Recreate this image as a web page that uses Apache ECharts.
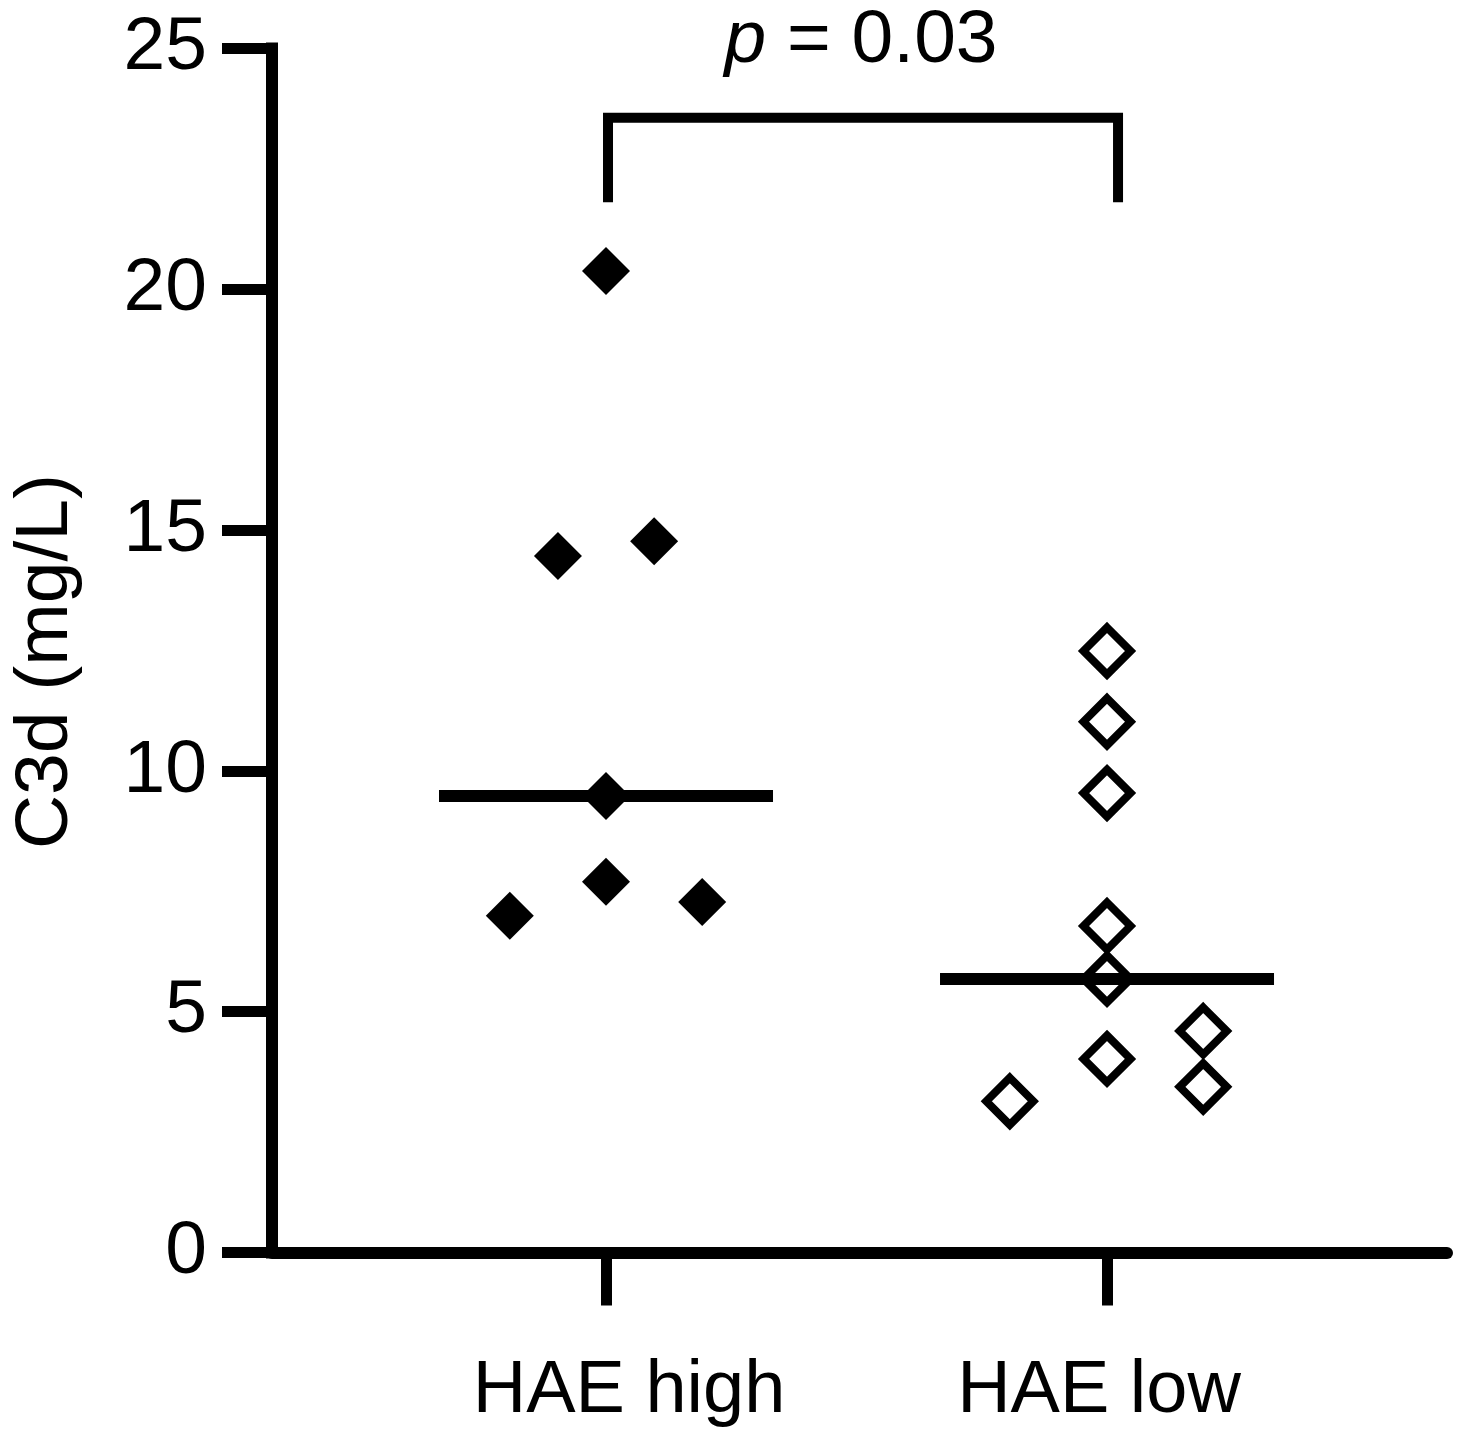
<!DOCTYPE html>
<html>
<head>
<meta charset="utf-8">
<script src="https://cdn.jsdelivr.net/npm/echarts@6/dist/echarts.min.js"></script>
<style>
  html, body { margin: 0; padding: 0; background: #ffffff; }
  #chart { width: 1459px; height: 1446px; }
</style>
</head>
<body>
<div id="chart"></div>
<script>
// ---- data ----
const categories = ['HAE high', 'HAE low'];
const groupPositions = [1, 2];
const highPositions = [1, 0.904, 1.096, 1, 1, 0.808, 1.192];
const highValues    = [20.38, 14.46, 14.77, 9.48, 7.70, 6.99, 7.28];
const lowPositions  = [2, 2, 2, 2, 2, 2, 1.806, 2.192, 2.192];
const lowValues     = [12.49, 11.02, 9.54, 6.78, 5.68, 4.02, 3.14, 4.60, 3.44];
const medians       = [9.48, 5.68];
const medianHalfWidth = 1 / 3;
const bracketX = [1.004, 2.022];
const bracketY = [21.81, 23.56];
const pLabel = 'p = 0.03';
const yTicks = [0, 5, 10, 15, 20, 25];
const yTitle = 'C3d (mg/L)';

const FONT = '"Liberation Sans", Arial, Helvetica, sans-serif';
const chart = echarts.init(document.getElementById('chart'), null, { renderer: 'canvas' });

const zip = (xs, ys) => xs.map((x, i) => [x, ys[i]]);
const medianSeries = medians.map((m, i) => ({
  type: 'line',
  data: [[groupPositions[i] - medianHalfWidth, m], [groupPositions[i] + medianHalfWidth, m]],
  symbol: 'none',
  lineStyle: { color: '#000', width: 12, cap: 'butt' },
  silent: true,
  z: 3
}));

const option = {
  backgroundColor: '#ffffff',
  animation: false,
  grid: { left: 272, right: 12, top: 48.5, bottom: 193.5, containLabel: false },
  xAxis: {
    type: 'value',
    min: 1 / 3,
    max: 2.6786,
    splitLine: { show: false },
    axisLine: { show: true, lineStyle: { color: '#000', width: 12 } },
    axisTick: {
      show: true, customValues: groupPositions, length: 53, inside: false,
      lineStyle: { color: '#000', width: 11 }
    },
    axisLabel: {
      show: true, customValues: groupPositions, margin: 102,
      fontFamily: FONT, fontSize: 74, color: '#000',
      formatter: function (v) {
        const i = groupPositions.indexOf(Math.round(v));
        return i === 0 ? '{hi|' + categories[0] + '}' : '{lo|' + categories[1] + '}';
      },
      rich: {
        hi: { fontFamily: FONT, fontSize: 74, color: '#000', padding: [0, 0, 0, 46] },
        lo: { fontFamily: FONT, fontSize: 74, color: '#000', padding: [0, 16, 0, 0] }
      }
    }
  },
  yAxis: {
    type: 'value',
    min: 0,
    max: 25,
    interval: 5,
    name: yTitle,
    nameLocation: 'middle',
    nameGap: 188,
    nameRotate: 90,
    nameTextStyle: { fontFamily: FONT, fontSize: 75, color: '#000', padding: [0, 22, 0, 0] },
    splitLine: { show: false },
    axisLine: { show: true, lineStyle: { color: '#000', width: 12, cap: 'square' } },
    axisTick: { show: true, length: 50, inside: false, lineStyle: { color: '#000', width: 11 } },
    axisLabel: {
      margin: 65, fontFamily: FONT, fontSize: 75, color: '#000',
      formatter: function (v) { return yTicks.indexOf(v) >= 0 ? String(v) : ''; }
    }
  },
  series: [
    ...medianSeries,
    {
      type: 'line',
      data: [[bracketX[0], bracketY[0]], [bracketX[0], bracketY[1]], [bracketX[1], bracketY[1]], [bracketX[1], bracketY[0]]],
      symbol: 'none',
      clip: false,
      lineStyle: { color: '#000', width: 10, cap: 'butt', join: 'miter' },
      silent: true,
      z: 3
    },
    {
      name: categories[0],
      type: 'scatter',
      data: zip(highPositions, highValues),
      symbol: 'diamond',
      symbolSize: 48,
      itemStyle: { color: '#000', opacity: 1 },
      z: 4
    },
    {
      name: categories[1],
      type: 'scatter',
      data: zip(lowPositions, lowValues),
      symbol: 'diamond',
      symbolSize: 47,
      itemStyle: { color: 'rgba(0,0,0,0)', borderColor: '#000', borderWidth: 8, opacity: 1 },
      z: 4
    }
  ],
  graphic: [
    {
      type: 'text',
      x: 861,
      y: 4,
      style: {
        text: '{i|p} = 0.03',
        rich: {
          i: { fontFamily: FONT, fontSize: 75, fontStyle: 'italic', fill: '#000' }
        },
        font: '75px ' + FONT,
        fontFamily: FONT,
        fontSize: 75,
        fill: '#000',
        align: 'center',
        verticalAlign: 'top'
      }
    }
  ]
};
chart.setOption(option);
</script>
</body>
</html>
